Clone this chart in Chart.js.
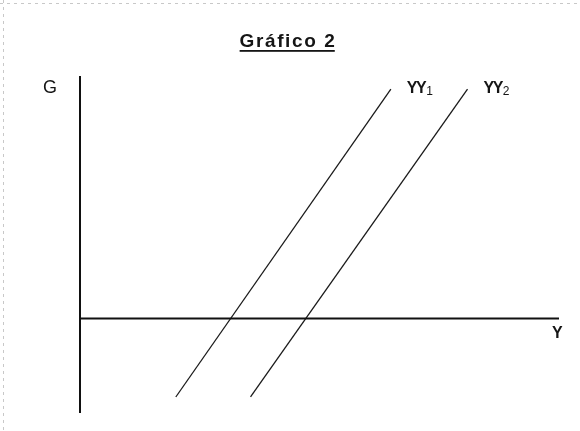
<!DOCTYPE html>
<html>
<head>
<meta charset="utf-8">
<script src="https://cdn.jsdelivr.net/npm/chart.js@4/dist/chart.umd.min.js"></script>
<style>
  html, body { margin: 0; padding: 0; background: #fff; }
  #wrap { width: 580px; height: 431px; }
</style>
</head>
<body>
<div id="wrap"><canvas id="c" width="580" height="431"></canvas></div>
<script>
// ---- Data ----
const titleText = 'Gráfico 2';
const axisLabels = { x: 'Y', y: 'G' };
const seriesNames = ['YY', 'YY'];
const seriesSubs = ['1', '2'];
// YY1 and YY2 lines: [start, end] in diagram units
const yy1X = [20.0, 64.9];
const yy1Y = [-32.4, 94.6];
const yy2X = [35.6, 80.9];
const yy2Y = [-32.4, 94.6];
// Axes in diagram units
const axisXRange = [0, 100];
const axisYRange = [-39, 100];

const toPts = (xs, ys) => xs.map((x, i) => ({ x: x, y: ys[i] }));

const labelPlugin = {
  id: 'labels',
  beforeDraw(chart) {
    const ctx = chart.ctx;
    ctx.save();
    ctx.fillStyle = '#fff';
    ctx.fillRect(0, 0, chart.width, chart.height);
    // faint scanned page border
    ctx.strokeStyle = '#c8c8c8';
    ctx.lineWidth = 1;
    ctx.setLineDash([3, 4]);
    ctx.beginPath();
    ctx.moveTo(0, 3.5); ctx.lineTo(chart.width, 3.5);
    ctx.moveTo(3.5, 0); ctx.lineTo(3.5, chart.height);
    ctx.stroke();
    ctx.restore();
  },
  afterDraw(chart) {
    const ctx = chart.ctx;
    const xs = chart.scales.x, ys = chart.scales.y;
    ctx.save();
    ctx.fillStyle = '#151515';
    // Title with underline
    ctx.font = 'bold 19px "Liberation Sans", Arial, sans-serif';
    ctx.letterSpacing = '1.6px';
    ctx.textBaseline = 'alphabetic';
    ctx.textAlign = 'left';
    const tw = ctx.measureText(titleText).width;
    const tx = 288 - tw / 2;
    ctx.fillText(titleText, tx, 47);
    ctx.fillRect(tx, 50, tw - 1.6, 1.8);
    ctx.letterSpacing = '0px';
    // G label (vertical axis)
    ctx.font = '18px "Liberation Sans", Arial, sans-serif';
    ctx.textAlign = 'left';
    ctx.fillText(axisLabels.y, xs.getPixelForValue(axisXRange[0]) - 37, ys.getPixelForValue(axisYRange[1]) + 17);
    // Y label (horizontal axis)
    ctx.font = 'bold 16px "Liberation Sans", Arial, sans-serif';
    ctx.fillText(axisLabels.x, xs.getPixelForValue(axisXRange[1]) - 7, ys.getPixelForValue(0) + 20);
    // YY labels
    const tops = [[yy1X[1], yy1Y[1]], [yy2X[1], yy2Y[1]]];
    tops.forEach((p, i) => {
      const px = xs.getPixelForValue(p[0]) + 16;
      const py = ys.getPixelForValue(p[1]) + 4;
      ctx.font = 'bold 16px "Liberation Sans", Arial, sans-serif';
      ctx.letterSpacing = '-1.5px';
      ctx.fillText(seriesNames[i], px, py);
      const w = ctx.measureText(seriesNames[i]).width;
      ctx.letterSpacing = '0px';
      ctx.font = '12px "Liberation Sans", Arial, sans-serif';
      ctx.fillText(seriesSubs[i], px + w + 1, py + 2);
    });
    ctx.restore();
  }
};

new Chart(document.getElementById('c'), {
  type: 'scatter',
  data: {
    datasets: [
      { label: 'G axis', data: toPts([0, 0], axisYRange), showLine: true, borderColor: '#111', borderWidth: 2, pointRadius: 0, clip: false },
      { label: 'Y axis', data: toPts(axisXRange, [0, 0]), showLine: true, borderColor: '#111', borderWidth: 2, pointRadius: 0, clip: false },
      { label: 'YY1', data: toPts(yy1X, yy1Y), showLine: true, borderColor: '#1a1a1a', borderWidth: 1.3, pointRadius: 0, clip: false },
      { label: 'YY2', data: toPts(yy2X, yy2Y), showLine: true, borderColor: '#1a1a1a', borderWidth: 1.3, pointRadius: 0, clip: false }
    ]
  },
  options: {
    responsive: false,
    animation: false,
    devicePixelRatio: 1,
    layout: { padding: { left: 80, right: 21, top: 76, bottom: 18 } },
    scales: {
      x: { type: 'linear', display: false, min: axisXRange[0], max: axisXRange[1] },
      y: { type: 'linear', display: false, min: axisYRange[0], max: axisYRange[1] }
    },
    plugins: { legend: { display: false }, tooltip: { enabled: false }, title: { display: false } }
  },
  plugins: [labelPlugin]
});
</script>
</body>
</html>
